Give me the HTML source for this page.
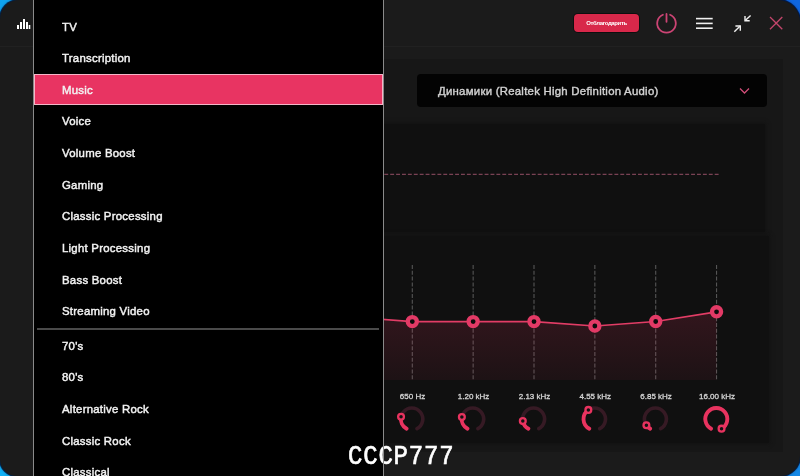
<!DOCTYPE html>
<html><head><meta charset="utf-8">
<style>
*{margin:0;padding:0;box-sizing:border-box}
html,body{width:800px;height:476px;overflow:hidden}
body{position:relative;background:#1490e8;font-family:"Liberation Sans",Arial,sans-serif}
.cb{position:absolute;width:40px;height:40px}
#win{position:absolute;left:0;top:0;width:800px;height:476px;border-radius:19px 22px 20px 17px;background:#1b1b1b;overflow:hidden;box-shadow:0 0 0 1px rgba(0,12,45,.8),0 0 2px 1px rgba(0,10,40,.4)}
.abs{position:absolute}
#hdrline{left:0;top:46px;width:800px;height:1px;background:#212121}
#btn{left:574px;top:14px;width:65px;height:18px;border-radius:4px;background:#d8284a;box-shadow:0 0 0 1px rgba(0,0,0,.45);color:#fff;font-weight:bold;font-size:6px;line-height:18px;text-align:center;letter-spacing:-0.37px}
#dd{left:417px;top:74px;width:350px;height:33px;border-radius:4px;background:#030303}
#dd span{position:absolute;left:21px;top:11px;font-size:11.4px;font-weight:normal;letter-spacing:0.25px;-webkit-text-stroke:0.4px #d2d2d2;color:#d2d2d2;line-height:13px;white-space:nowrap}
#content{left:383px;top:59px;width:400px;height:393px;background:#171717}
#p1{left:383px;top:124px;width:382px;height:108px;background:#101010;box-shadow:0 0 4px 1px rgba(16,16,16,.7)}
#p2{left:383px;top:236px;width:386px;height:207px;background:#101010;box-shadow:0 0 4px 1px rgba(16,16,16,.7)}
#rstrip{display:none}
.lbl{position:absolute;top:392px;width:60px;margin-left:-30px;text-align:center;font-size:8px;color:#d4d4d4;font-weight:normal;-webkit-text-stroke:0.3px #d4d4d4;white-space:nowrap;line-height:9px}
#menu{left:33px;top:-2px;width:351px;height:480px;background:#000;border-left:1px solid #8a8a8a;border-right:1px solid #8a8a8a}
.it{position:absolute;left:28px;font-size:11.4px;font-weight:normal;letter-spacing:0.25px;-webkit-text-stroke:0.45px #f2f2f2;color:#f2f2f2;line-height:13px;white-space:nowrap}
#sel{position:absolute;left:0;top:76px;width:349px;height:31px;background:#e83462;border:1px solid #f6b6c8}
#sep{position:absolute;left:3px;top:330px;width:342px;height:1.5px;background:#4a4a4a}
#wm{left:348px;top:440.8px;font-family:"Liberation Mono",monospace;font-size:24px;color:#fff;-webkit-text-stroke:0.6px #fff;letter-spacing:0.8px;line-height:28px;transform:scaleY(1.17);transform-origin:0 0}
#wmline{left:383px;top:436px;width:1px;height:40px;background:#8a8a8a}
</style></head><body>
<div class="cb" style="left:0;top:0;background:#0fa4f0"></div><div class="cb" style="right:0;top:0;background:#0f66e0"></div><div class="cb" style="left:0;bottom:0;background:#10b0f5"></div><div class="cb" style="right:0;bottom:0;background:#1588e6"></div>
<div id="win">
  <!-- left sidebar icon -->
  <svg class="abs" style="left:0;top:0" width="33" height="40">
    <g fill="#fff">
      <rect x="17" y="25" width="2" height="4"/>
      <rect x="20" y="22" width="2" height="7"/>
      <rect x="23" y="19" width="2" height="10"/>
      <rect x="26" y="22" width="2" height="7"/>
      <rect x="28.7" y="25" width="1.6" height="4"/>
    </g>
  </svg>
  <div class="abs" id="content"></div>
  <div class="abs" id="hdrline"></div>
  <div class="abs" id="rstrip"></div>
  <div class="abs" id="btn">Отблагодарить</div>
  <!-- header icons -->
  <svg class="abs" style="left:640px;top:0" width="160" height="46">
    <g fill="none" stroke="#cc4474" stroke-width="1.8" stroke-linecap="round">
      <path d="M22.9 14.73 A9.3 9.3 0 1 0 30.1 14.73"/>
      <line x1="26.5" y1="14" x2="26.5" y2="21.8"/>
    </g>
    <g stroke="#f0f0f0" stroke-width="1.6">
      <line x1="56" y1="18.6" x2="72.7" y2="18.6"/>
      <line x1="56" y1="23.4" x2="72.7" y2="23.4"/>
      <line x1="56" y1="28.2" x2="72.7" y2="28.2"/>
    </g>
    <g fill="none" stroke="#f0f0f0" stroke-width="1.4">
      <line x1="110.6" y1="15.4" x2="105.2" y2="20.6"/>
      <polyline points="105,16.1 105,20.7 109.7,20.7"/>
      <line x1="94.3" y1="31.7" x2="100.2" y2="26"/>
      <polyline points="95.4,26 100.3,26 100.3,30.7"/>
    </g>
    <g stroke="#c4466c" stroke-width="1.3">
      <line x1="130" y1="17" x2="142.3" y2="29.3"/>
      <line x1="142.3" y1="17" x2="130" y2="29.3"/>
    </g>
  </svg>
  <div class="abs" id="dd"><span>Динамики (Realtek High Definition Audio)</span>
    <svg style="position:absolute;left:322px;top:13px" width="12" height="8"><polyline points="1,1.5 5.5,6 10,1.5" fill="none" stroke="#d24e78" stroke-width="1.25"/></svg>
  </div>
  <div class="abs" id="p1"></div>
  <div class="abs" id="p2"></div>
  <svg class="abs" style="left:0;top:0" width="800" height="476" id="graph">
    <defs>
      <linearGradient id="fg" gradientUnits="userSpaceOnUse" x1="0" y1="312" x2="0" y2="380">
        <stop offset="0" stop-color="#e8335f" stop-opacity="0.16"/>
        <stop offset="1" stop-color="#e8335f" stop-opacity="0.06"/>
      </linearGradient>
    </defs>
    <line x1="718.6" y1="174.3" x2="383" y2="174.3" stroke="#7a4254" stroke-width="1.2" stroke-dasharray="3.9 2"/>
    <g stroke="#555" stroke-width="1.1" stroke-dasharray="4 1.8">
      <line x1="412.3" y1="379.2" x2="412.3" y2="264"/>
      <line x1="473.15" y1="379.2" x2="473.15" y2="264"/>
      <line x1="534" y1="379.2" x2="534" y2="264"/>
      <line x1="594.85" y1="379.2" x2="594.85" y2="264"/>
      <line x1="655.7" y1="379.2" x2="655.7" y2="264"/>
      <line x1="716.55" y1="379.2" x2="716.55" y2="264"/>
    </g>
    <path d="M351.45 317 L412.3 321.6 L473.15 321.6 L534 321.6 L594.85 326 L655.7 321.5 L716.55 311.8 L716.55 380 L351.45 380 Z" fill="url(#fg)"/>
    <polyline points="351.45,317 412.3,321.6 473.15,321.6 534,321.6 594.85,326 655.7,321.5 716.55,311.8" fill="none" stroke="#e23d66" stroke-width="1.7"/>
    <g fill="#0c0c0c" stroke="#e33a66" stroke-width="4.3">
      <circle cx="412.3" cy="321.6" r="4.55"/>
      <circle cx="473.15" cy="321.6" r="4.55"/>
      <circle cx="534" cy="321.6" r="4.55"/>
      <circle cx="594.85" cy="326" r="4.55"/>
      <circle cx="655.7" cy="321.5" r="4.55"/>
      <circle cx="716.55" cy="311.8" r="4.55"/>
    </g>
    <g id="knobs">
    <path d="M406.64 428.71 A11 11 0 1 1 416.96 428.71" fill="none" stroke="#361a24" stroke-width="3.6" stroke-linecap="round"/>
    <path d="M406.64 428.71 A11 11 0 0 1 401.04 416.71" fill="none" stroke="#e8335f" stroke-width="3.8" stroke-linecap="round"/>
    <circle cx="401.04" cy="416.71" r="2.9" fill="#121212" stroke="#e8335f" stroke-width="2.3"/>
    <path d="M467.54 428.71 A11 11 0 1 1 477.86 428.71" fill="none" stroke="#361a24" stroke-width="3.6" stroke-linecap="round"/>
    <path d="M467.54 428.71 A11 11 0 0 1 461.87 417.09" fill="none" stroke="#e8335f" stroke-width="3.8" stroke-linecap="round"/>
    <circle cx="461.87" cy="417.09" r="2.9" fill="#121212" stroke="#e8335f" stroke-width="2.3"/>
    <path d="M528.44 428.71 A11 11 0 1 1 538.76 428.71" fill="none" stroke="#361a24" stroke-width="3.6" stroke-linecap="round"/>
    <path d="M528.44 428.71 A11 11 0 0 1 522.80 421.10" fill="none" stroke="#e8335f" stroke-width="3.8" stroke-linecap="round"/>
    <circle cx="522.80" cy="421.10" r="2.9" fill="#121212" stroke="#e8335f" stroke-width="2.3"/>
    <path d="M589.34 428.71 A11 11 0 1 1 599.66 428.71" fill="none" stroke="#361a24" stroke-width="3.6" stroke-linecap="round"/>
    <path d="M589.34 428.71 A11 11 0 0 1 588.35 409.88" fill="none" stroke="#e8335f" stroke-width="3.8" stroke-linecap="round"/>
    <circle cx="588.35" cy="409.88" r="2.9" fill="#121212" stroke="#e8335f" stroke-width="2.3"/>
    <path d="M650.24 428.71 A11 11 0 1 1 660.56 428.71" fill="none" stroke="#361a24" stroke-width="3.6" stroke-linecap="round"/>
    <path d="M650.24 428.71 A11 11 0 0 1 646.39 425.31" fill="none" stroke="#e8335f" stroke-width="3.8" stroke-linecap="round"/>
    <circle cx="646.39" cy="425.31" r="2.9" fill="#121212" stroke="#e8335f" stroke-width="2.3"/>
    <path d="M711.14 428.71 A11 11 0 1 1 721.46 428.71" fill="none" stroke="#361a24" stroke-width="3.6" stroke-linecap="round"/>
    <path d="M711.14 428.71 A11 11 0 1 1 721.55 428.67" fill="none" stroke="#e8335f" stroke-width="3.8" stroke-linecap="round"/>
    <circle cx="721.55" cy="428.67" r="2.9" fill="#121212" stroke="#e8335f" stroke-width="2.3"/>
    </g>
  </svg>
  <div class="lbl" style="left:412.5px">650 Hz</div>
  <div class="lbl" style="left:473.6px">1.20 kHz</div>
  <div class="lbl" style="left:534.5px">2.13 kHz</div>
  <div class="lbl" style="left:595.3px">4.55 kHz</div>
  <div class="lbl" style="left:656.1px">6.85 kHz</div>
  <div class="lbl" style="left:717px">16.00 kHz</div>

  <div class="abs" id="menu">
    <div class="it" style="top:22.5px">TV</div>
    <div class="it" style="top:54.1px">Transcription</div>
    <div id="sel"></div>
    <div class="it" style="top:85.8px">Music</div>
    <div class="it" style="top:117.4px">Voice</div>
    <div class="it" style="top:149.1px">Volume Boost</div>
    <div class="it" style="top:180.8px">Gaming</div>
    <div class="it" style="top:212.4px">Classic Processing</div>
    <div class="it" style="top:244.0px">Light Processing</div>
    <div class="it" style="top:275.7px">Bass Boost</div>
    <div class="it" style="top:307.3px">Streaming Video</div>
    <div id="sep"></div>
    <div class="it" style="top:341.8px">70's</div>
    <div class="it" style="top:373.4px">80's</div>
    <div class="it" style="top:405.1px">Alternative Rock</div>
    <div class="it" style="top:436.8px">Classic Rock</div>
    <div class="it" style="top:468.4px">Classical</div>
  </div>
  <div class="abs" id="wm">CCCP777</div>
  <div class="abs" id="wmline"></div>
</div>
</body></html>
